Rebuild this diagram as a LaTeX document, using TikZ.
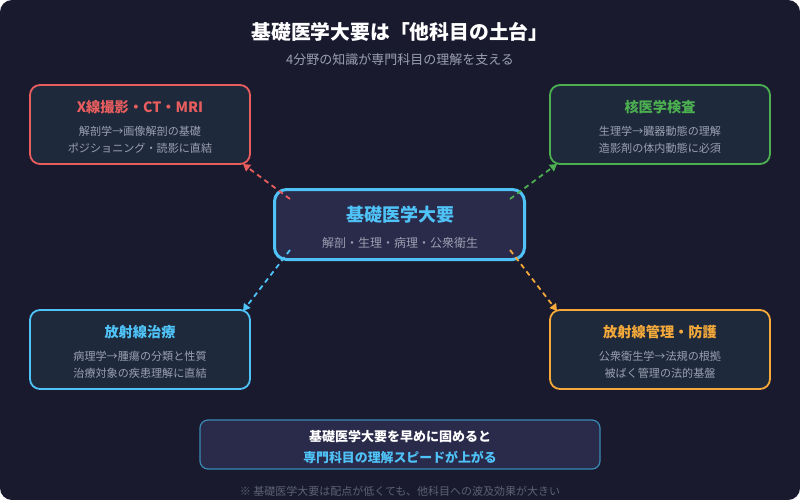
\documentclass[tikz,border=0pt]{standalone}
\usepackage{fontspec}
\setmainfont{Noto Sans CJK JP}
\usetikzlibrary{arrows.meta}
\definecolor{bg}{HTML}{1A1A2E}
\definecolor{boxfill}{HTML}{1E2A3C}
\definecolor{cfill}{HTML}{2A2A4A}
\definecolor{cred}{HTML}{E85D5D}
\definecolor{cgreen}{HTML}{4CAF50}
\definecolor{cblue}{HTML}{4FC3F7}
\definecolor{corange}{HTML}{F5A93A}
\definecolor{gtext}{HTML}{9AA0B0}
\definecolor{ftext}{HTML}{5C6272}
\definecolor{bborder}{HTML}{3A8AB5}
\tikzset{
  card/.style={draw=#1, line width=1.8pt, fill=boxfill, rounded corners=10pt,
    minimum width=220pt, minimum height=79pt, inner sep=0pt},
  cardtitle/.style={text=#1, font=\fontsize{14.2}{16}\selectfont\bfseries},
  cardline/.style={text=gtext, font=\fontsize{11.1}{13}\selectfont},
  conn/.style={draw=#1, line width=1.8pt, dash pattern=on 5pt off 4pt,
    -{Triangle[length=7pt,width=8pt]}},
}
\begin{document}
\begin{tikzpicture}[x=1pt,y=-1pt]
\useasboundingbox (0,0) rectangle (800,500);
\fill[bg, rounded corners=12pt] (0,0) rectangle (800,500);

% title
\node[text=white, font=\fontsize{19.8}{22}\selectfont\bfseries] (title) at (400,32) {基礎医学大要は「他科目の土台」};
\node[text=gtext, font=\fontsize{13}{15}\selectfont] (subtitle) at (400,60) {4分野の知識が専門科目の理解を支える};

% cards
\node[card=cred] (tl) at (140,124.5) {};
\node[cardtitle=cred] (tlt) at (140,107) {X線撮影・CT・MRI};
\node[cardline] (tl1) at (140,131) {解剖学→画像解剖の基礎};
\node[cardline] (tl2) at (140,148) {ポジショニング・読影に直結};

\node[card=cgreen] (tr) at (660,124.5) {};
\node[cardtitle=cgreen] (trt) at (660,107) {核医学検査};
\node[cardline] (tr1) at (660,131) {生理学→臓器動態の理解};
\node[cardline] (tr2) at (660,148) {造影剤の体内動態に必須};

\node[card=cblue] (bl) at (140,349.5) {};
\node[cardtitle=cblue] (blt) at (140,332) {放射線治療};
\node[cardline] (bl1) at (140,356) {病理学→腫瘍の分類と性質};
\node[cardline] (bl2) at (140,373) {治療対象の疾患理解に直結};

\node[card=corange] (br) at (660,349.5) {};
\node[cardtitle=corange] (brt) at (660,332) {放射線管理・防護};
\node[cardline] (br1) at (660,356) {公衆衛生学→法規の根拠};
\node[cardline] (br2) at (660,373) {被ばく管理の法的基盤};

% center
\node[draw=cblue, line width=3pt, fill=cfill, rounded corners=12pt,
  minimum width=250pt, minimum height=70pt, inner sep=0pt] (center) at (399.5,224.5) {};
\node[text=cblue, font=\fontsize{18}{21}\selectfont\bfseries] (ct) at (400,215) {基礎医学大要};
\node[text=gtext, font=\fontsize{12}{14}\selectfont] (cs) at (400,243) {解剖・生理・病理・公衆衛生};

% connectors
\coordinate (s1) at (290,199); \coordinate (e1) at (243,164);
\coordinate (s2) at (510,199); \coordinate (e2) at (557,164);
\coordinate (s3) at (290,250); \coordinate (e3) at (243,311);
\coordinate (s4) at (510,250); \coordinate (e4) at (557,311);
\draw[conn=cred] (s1) -- (e1);
\draw[conn=cgreen] (s2) -- (e2);
\draw[conn=cblue] (s3) -- (e3);
\draw[conn=corange] (s4) -- (e4);

% bottom box
\node[draw=bborder, line width=1.2pt, fill=cfill, rounded corners=8pt,
  minimum width=400pt, minimum height=49pt, inner sep=0pt] (bottom) at (400,444.5) {};
\node[text=white, font=\fontsize{13}{15}\selectfont\bfseries] (b1) at (400,437) {基礎医学大要を早めに固めると};
\node[text=cblue, font=\fontsize{12.9}{15}\selectfont\bfseries] (b2) at (400,457) {専門科目の理解スピードが上がる};

\node[text=ftext, font=\fontsize{11}{13}\selectfont] (foot) at (400,491) {※ 基礎医学大要は配点が低くても、他科目への波及効果が大きい};
\end{tikzpicture}
\end{document}
